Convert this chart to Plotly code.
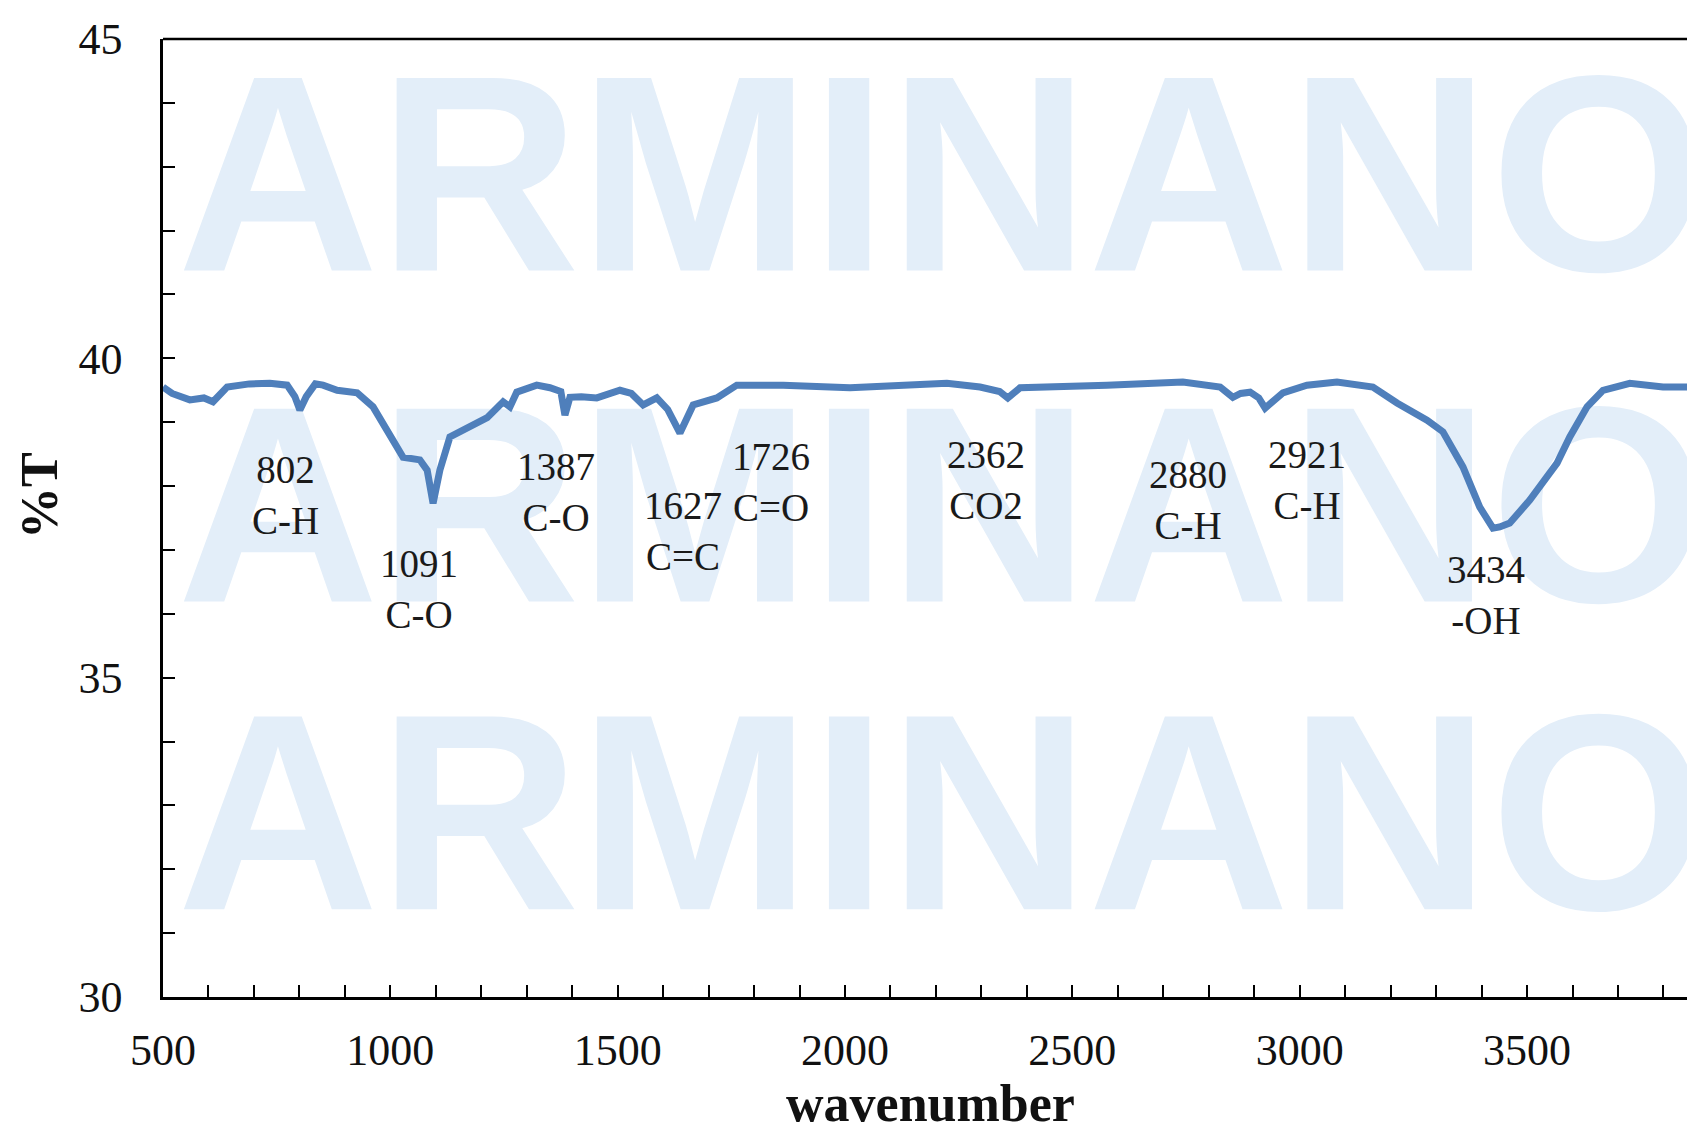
import plotly.graph_objects as go

# ---- data ----
wavenumber = [500, 520, 559, 590, 610, 641, 690, 735, 773, 790, 801, 815, 835, 852, 883,
              927, 962, 1006, 1028, 1065, 1081, 1094, 1100, 1109, 1131, 1169, 1213, 1248,
              1263, 1278, 1322, 1351, 1375, 1384, 1395, 1420, 1454, 1505, 1530, 1556, 1586,
              1610, 1637, 1666, 1718, 1762, 1864, 2011, 2224, 2297, 2340, 2358, 2385, 2576,
              2743, 2825, 2853, 2870, 2891, 2910, 2924, 2963, 3016, 3082, 3161, 3214, 3280,
              3315, 3359, 3396, 3425, 3440, 3462, 3506, 3566, 3594, 3632, 3667, 3726, 3799, 3887]
transmittance = [39.55, 39.45, 39.35, 39.38, 39.32, 39.55, 39.60, 39.61, 39.58, 39.40, 39.19,
                 39.40, 39.60, 39.58, 39.50, 39.46, 39.24, 38.72, 38.45, 38.41, 38.25, 37.73,
                 37.95, 38.25, 38.77, 38.91, 39.07, 39.32, 39.24, 39.47, 39.58, 39.54, 39.48,
                 39.11, 39.39, 39.40, 39.38, 39.50, 39.45, 39.27, 39.38, 39.20, 38.83, 39.27,
                 39.38, 39.58, 39.58, 39.54, 39.61, 39.55, 39.48, 39.38, 39.54, 39.58, 39.63,
                 39.55, 39.39, 39.45, 39.47, 39.38, 39.22, 39.46, 39.58, 39.63, 39.55, 39.30,
                 39.03, 38.85, 38.30, 37.67, 37.34, 37.36, 37.42, 37.78, 38.36, 38.77, 39.24,
                 39.50, 39.61, 39.55, 39.55]

peak_numbers = ["802", "1091", "1387", "1627", "1726", "2362", "2880", "2921", "3434"]
peak_groups = ["C-H", "C-O", "C-O", "C=C", "C=O", "CO2", "C-H", "C-H", "-OH"]

y_tick_labels = [30, 35, 40, 45]
x_tick_labels = [500, 1000, 1500, 2000, 2500, 3000, 3500]

watermark_letters = ["A", "R", "M", "I", "N", "A", "N", "O"]

# ---- placement (data coordinates) ----
label_x = [769, 1063, 1364, 1643, 1837, 2310, 2754, 3016, 3409]
label_y = [37.86, 36.39, 37.91, 37.29, 38.06, 38.09, 37.78, 38.10, 36.29]
watermark_x = [753, 1195, 1670, 2009, 2317, 2756, 3198, 3658]
watermark_y = [42.47, 37.29, 32.47]

SERIF = "Liberation Serif, Times New Roman, serif"

fig = go.Figure()

# watermark (drawn first so the spectrum is on top)
wm_x, wm_y, wm_t = [], [], []
for yy in watermark_y:
    for xx, ch in zip(watermark_x, watermark_letters):
        wm_x.append(xx)
        wm_y.append(yy)
        wm_t.append(ch)
fig.add_trace(go.Scatter(
    x=wm_x, y=wm_y, text=wm_t, mode="text", textposition="middle center",
    textfont=dict(family="Liberation Sans, Arial, sans-serif", size=280,
                  color="#e3eef9", weight="bold"),
    hoverinfo="skip", showlegend=False, cliponaxis=True,
))

fig.add_trace(go.Scatter(
    x=wavenumber, y=transmittance, mode="lines",
    line=dict(color="#4f7fbb", width=7),
    showlegend=False,
))

for xn, yn, num, grp in zip(label_x, label_y, peak_numbers, peak_groups):
    fig.add_annotation(x=xn, y=yn, xref="x", yref="y", text=f"{num}<br>{grp}",
                       showarrow=False, align="center",
                       font=dict(family=SERIF, size=39, color="#1a1a1a"))

# top border line
fig.add_shape(type="line", xref="paper", yref="paper", x0=0, x1=1, y0=1, y1=1,
              line=dict(color="black", width=2.5))

fig.update_xaxes(
    range=[500, 3887], showgrid=False, zeroline=False,
    showline=True, linecolor="black", linewidth=2.5,
    tickvals=x_tick_labels, ticks="inside", ticklen=12, tickwidth=2, tickcolor="black",
    minor=dict(dtick=100, tick0=500, ticks="inside", ticklen=12, tickwidth=2, tickcolor="black"),
    tickfont=dict(family=SERIF, size=44, color="#111"),
    ticklabelstandoff=12,
)
fig.update_yaxes(
    range=[30, 45], showgrid=False, zeroline=False,
    showline=True, linecolor="black", linewidth=2.5,
    tickvals=y_tick_labels, ticks="inside", ticklen=12, tickwidth=2, tickcolor="black",
    minor=dict(dtick=1, tick0=30, ticks="inside", ticklen=12, tickwidth=2, tickcolor="black"),
    tickfont=dict(family=SERIF, size=44, color="#111"),
    ticklabelstandoff=29,
)

# page body has an 8px margin: compensate so the plot sits where the reference has it
W, H = 1695, 1131
ML, MT, MB = 155, 31, 142
fig.update_layout(
    width=W, height=H,
    margin=dict(l=ML, r=0, t=MT, b=MB),
    plot_bgcolor="white", paper_bgcolor="white",
)

plot_w = W - ML
plot_h = H - MT - MB
# axis titles placed by screen pixel (minus the 8px body offset)
fig.add_annotation(text="<b>wavenumber</b>", showarrow=False, xref="paper", yref="paper",
                   x=(930 - 8 - ML) / plot_w, y=-((1103 - 8) - (H - MB)) / plot_h,
                   xanchor="center", yanchor="middle",
                   font=dict(family=SERIF, size=52, color="#111"))
fig.add_annotation(text="<b>%T</b>", textangle=-90, showarrow=False,
                   xref="paper", yref="paper",
                   x=-(ML - (40 - 8)) / plot_w, y=((H - MB) - (496 - 8)) / plot_h,
                   xanchor="center", yanchor="middle",
                   font=dict(family=SERIF, size=52, color="#111"))

fig.write_html("out.html")
